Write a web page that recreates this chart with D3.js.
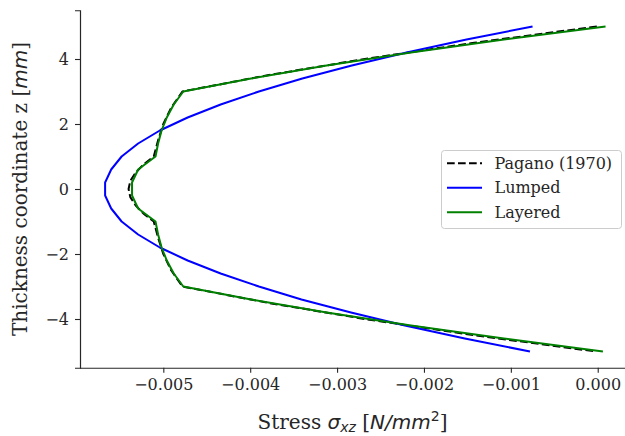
<!DOCTYPE html>
<html>
<head>
<meta charset="utf-8">
<script src="https://cdn.jsdelivr.net/npm/d3@7"></script>
<style>
  html, body { margin: 0; padding: 0; background: #fff; }
  svg { display: block; }
</style>
</head>
<body>
<svg id="chart" width="625" height="436"></svg>
<script>
// ---- data (stress in N/mm^2, thickness coordinate z in mm) ----
const zGrid = [5.0, 4.6, 4.2, 3.8, 3.4, 3.0, 2.6, 2.2, 1.8, 1.4, 1.0, 0.6, 0.2,
               -0.2, -0.6, -1.0, -1.4, -1.8, -2.2, -2.6, -3.0, -3.4, -3.8, -4.2, -4.6, -5.0];
const lumped = [-0.00075, -0.00151, -0.00220, -0.00283, -0.00340, -0.00390, -0.00434, -0.00472, -0.00504, -0.00529, -0.00548, -0.00560, -0.00567,
                -0.00567, -0.00560, -0.00548, -0.00529, -0.00504, -0.00472, -0.00434, -0.00390, -0.00341, -0.00284, -0.00222, -0.00153, -0.00078];
const layered = [0.00009, -0.00108, -0.00215, -0.00312, -0.00399, -0.00477, -0.00488, -0.00496, -0.00502, -0.00506, -0.00509, -0.00529, -0.00536,
                 -0.00536, -0.00529, -0.00509, -0.00506, -0.00502, -0.00496, -0.00488, -0.00477, -0.00399, -0.00312, -0.00215, -0.00108, 0.00006];
const paganoZ = [5.0, 4.5, 4.0, 3.5, 3.0, 2.5, 2.0, 1.5, 1.0, 0.75, 0.5, 0.25, 0.0,
                 -0.25, -0.5, -0.75, -1.0, -1.5, -2.0, -2.5, -3.0, -3.5, -4.0, -4.5, -5.0];
const pagano = [-0.00001, -0.00142, -0.00268, -0.00380, -0.00478, -0.00491, -0.00500, -0.00506, -0.00511, -0.00523, -0.00532, -0.00538, -0.00540,
                -0.00538, -0.00532, -0.00523, -0.00511, -0.00506, -0.00500, -0.00491, -0.00478, -0.00380, -0.00268, -0.00142, -0.00002];
const xTicks = [-0.005, -0.004, -0.003, -0.002, -0.001, 0.000];
const yTicks = [-4, -2, 0, 2, 4];
const seriesNames = ["Pagano (1970)", "Lumped", "Layered"];

// ---- layout ----
const svg = d3.select("#chart");
const L = 80, R = 625, T = 10.25, B = 367.75;
const x = d3.scaleLinear().domain([-0.005959, 0.000314]).range([L, R]);
const y = d3.scaleLinear().domain([-5.5, 5.5]).range([B, T]);
const ink = "#262626";
const serif = "'DejaVu Serif', serif";
const sans = "'DejaVu Sans', sans-serif";

// series
const series = [
  { name: seriesNames[0], xs: pagano, zs: paganoZ, color: "#000000", dash: "7.7,3.3" },
  { name: seriesNames[1], xs: lumped, zs: zGrid, color: "#0000ff", dash: null },
  { name: seriesNames[2], xs: layered, zs: zGrid, color: "#008000", dash: null }
];
const line = d3.line().x(d => x(d[0])).y(d => y(d[1]));
const plot = svg.append("g");
series.forEach(s => {
  plot.append("path")
    .datum(s.xs.map((v, i) => [v, s.zs[i]]))
    .attr("d", line)
    .attr("fill", "none")
    .attr("stroke", s.color)
    .attr("stroke-width", 2)
    .attr("stroke-linejoin", "round")
    .attr("stroke-dasharray", s.dash);
});

// axes
const xAxis = svg.append("g").attr("transform", `translate(0,${B})`)
  .call(d3.axisBottom(x).tickValues(xTicks).tickFormat(d3.format(".3f")).tickSizeOuter(0).tickSize(5).tickPadding(6));
const yAxis = svg.append("g").attr("transform", `translate(${L},0)`)
  .call(d3.axisLeft(y).tickValues(yTicks).tickFormat(d3.format("d")).tickSizeOuter(0).tickSize(5).tickPadding(6));
[xAxis, yAxis].forEach(a => {
  a.select(".domain").attr("stroke", ink).attr("stroke-width", 1.2);
  a.selectAll(".tick line").attr("stroke", ink).attr("stroke-width", 1.1);
  a.selectAll(".tick text").attr("fill", ink).style("font-family", serif).style("font-size", "16px");
});
xAxis.select(".domain").attr("d", `M${L},0.5H${R}`);

// x label
const xl = svg.append("text").attr("x", (L + R) / 2).attr("y", 429)
  .attr("text-anchor", "middle").attr("fill", ink)
  .style("font-family", serif).style("font-size", "20px");
xl.append("tspan").text("Stress ");
xl.append("tspan").style("font-family", sans).style("font-style", "italic").text("σ");
xl.append("tspan").style("font-family", sans).style("font-style", "italic").style("font-size", "14px").attr("dy", 3).text("xz");
xl.append("tspan").attr("dy", -3).text(" [");
xl.append("tspan").style("font-family", sans).style("font-style", "italic").text("N/mm");
xl.append("tspan").style("font-family", sans).style("font-size", "14px").attr("dy", -8).text("2");
xl.append("tspan").attr("dy", 8).text("]");

// y label
const yl = svg.append("text").attr("transform", `translate(27,${(T + B) / 2}) rotate(-90)`)
  .attr("text-anchor", "middle").attr("fill", ink)
  .style("font-family", serif).style("font-size", "20px");
yl.append("tspan").text("Thickness coordinate z [");
yl.append("tspan").style("font-family", sans).style("font-style", "italic").text("mm");
yl.append("tspan").text("]");

// legend
const lg = svg.append("g");
lg.append("rect").attr("x", 441.5).attr("y", 150.5).attr("width", 180).attr("height", 78)
  .attr("rx", 3).attr("fill", "#ffffff").attr("fill-opacity", 0.8)
  .attr("stroke", "#cccccc").attr("stroke-width", 1);
series.forEach((s, i) => {
  const cy = 163.3 + i * 24.5;
  lg.append("line").attr("x1", 447).attr("x2", 482).attr("y1", cy).attr("y2", cy)
    .attr("stroke", s.color).attr("stroke-width", 2).attr("stroke-dasharray", s.dash);
  lg.append("text").attr("x", 494.5).attr("y", cy + 5.5).attr("fill", ink)
    .style("font-family", serif).style("font-size", "16px").text(s.name);
});
</script>
</body>
</html>
